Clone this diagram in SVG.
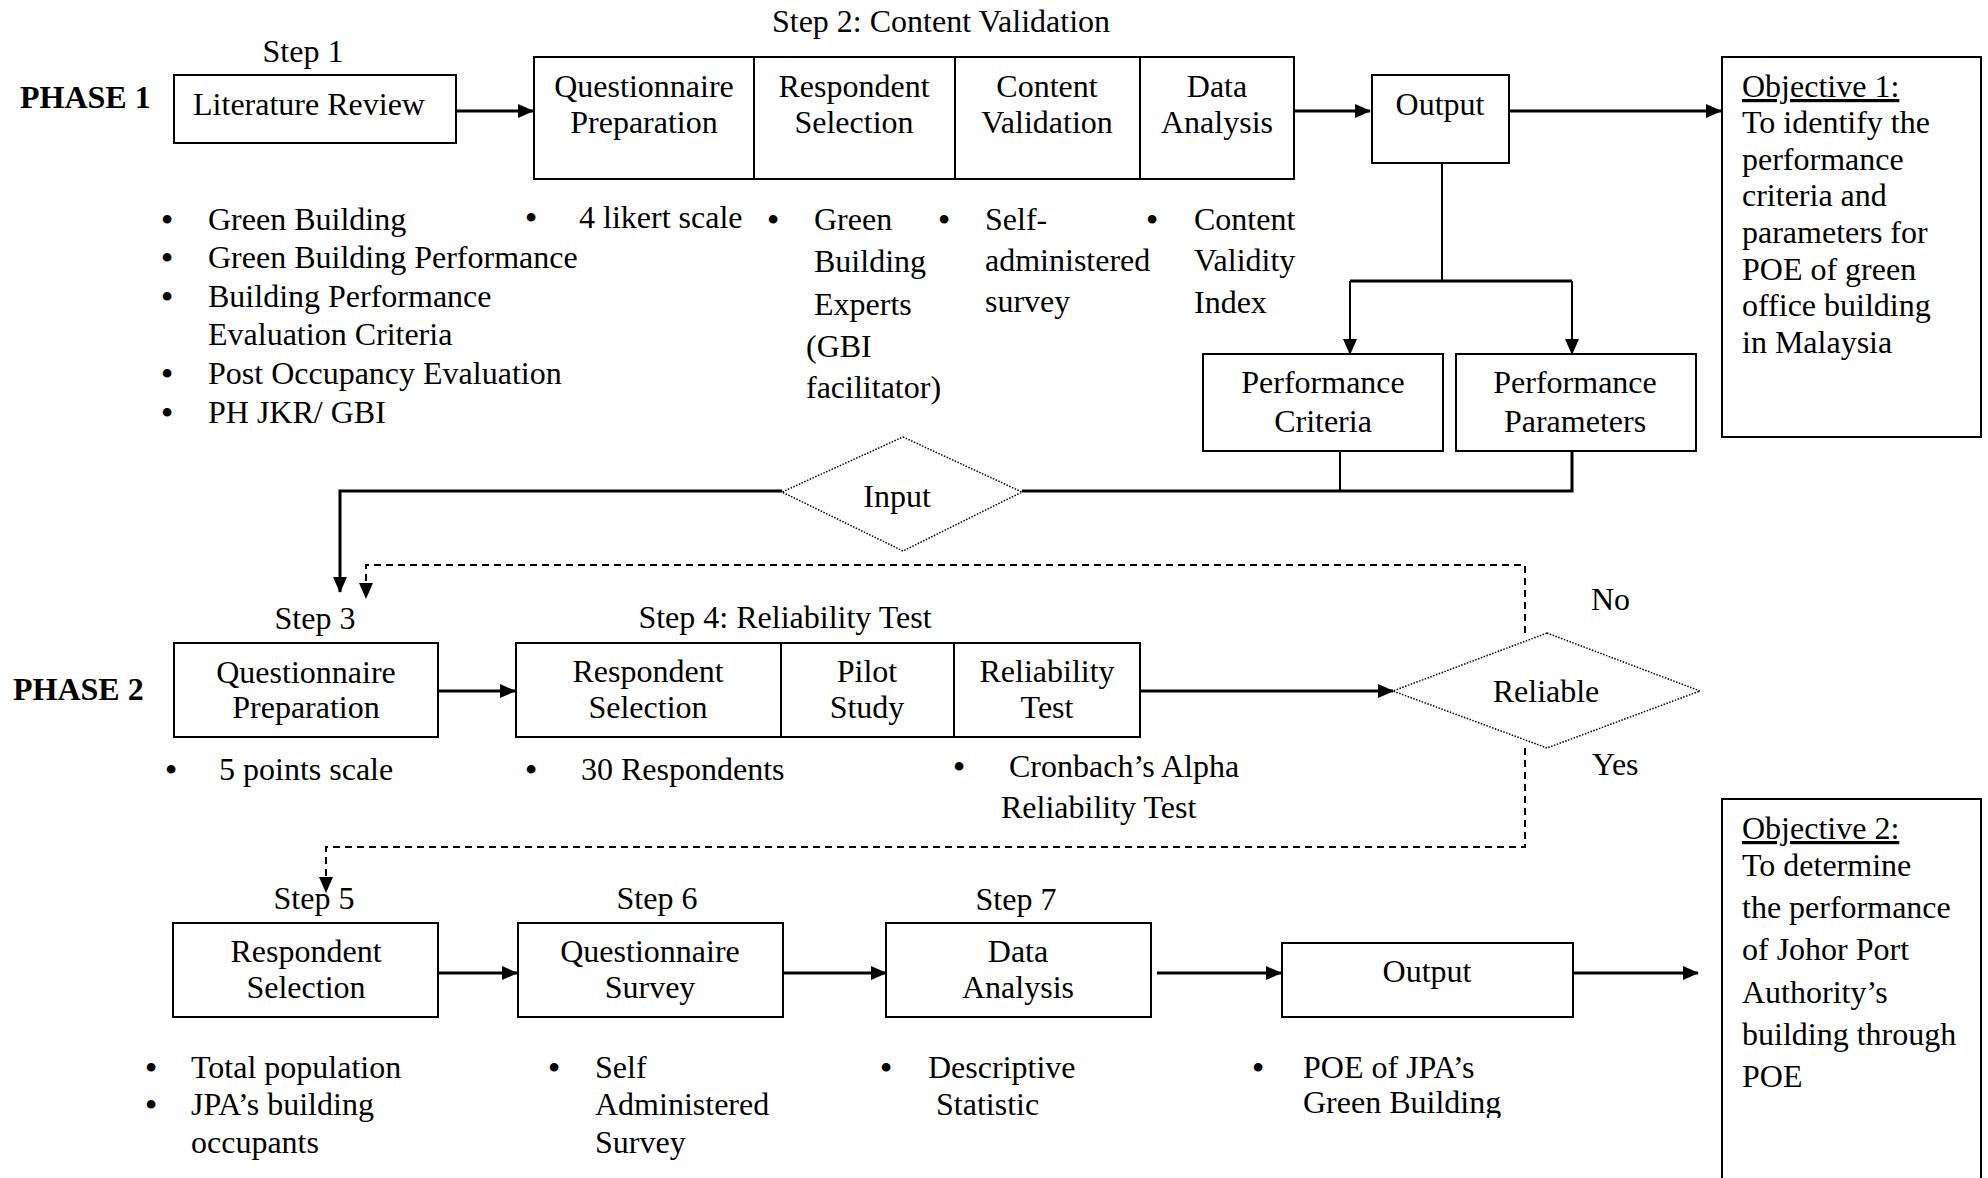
<svg xmlns="http://www.w3.org/2000/svg" width="1988" height="1178" viewBox="0 0 1988 1178">
<defs>
<style>
text{font-family:"Liberation Serif","Times New Roman",serif;font-size:32px;fill:#000}
.c{text-anchor:middle}
.b{font-weight:bold}
.u{text-decoration:underline}
.d{text-anchor:middle;font-weight:bold}
.box{fill:#fff;stroke:#000;stroke-width:2}
.ln{fill:none;stroke:#000;stroke-width:3}
.thin{fill:none;stroke:#000;stroke-width:2}
.dash{fill:none;stroke:#000;stroke-width:2;stroke-dasharray:7 5}
.dia{fill:#fff;stroke:#000;stroke-width:1.5;stroke-dasharray:1.5 1.5}
</style>
<marker id="ah" markerUnits="userSpaceOnUse" markerWidth="16" markerHeight="16" viewBox="0 0 16 16" refX="15" refY="8" orient="auto">
<path d="M0,1 L16,8 L0,15 Z" fill="#000"/>
</marker>
<clipPath id="cut"><rect x="1250" y="1040" width="400" height="78"/></clipPath>
</defs>
<rect width="1988" height="1178" fill="#fff"/>

<text class="b" x="20" y="108">PHASE 1</text>
<text class="b" x="13" y="700">PHASE 2</text>

<text class="c" x="303" y="62">Step 1</text>
<text class="c" x="941" y="32">Step 2: Content Validation</text>
<text class="c" x="315" y="629">Step 3</text>
<text class="c" x="785" y="628">Step 4: Reliability Test</text>
<text class="c" x="314" y="909">Step 5</text>
<text class="c" x="657" y="909">Step 6</text>
<text class="c" x="1016" y="910">Step 7</text>

<g id="connectors">
<line class="ln" x1="456" y1="111" x2="533" y2="111" marker-end="url(#ah)"/>
<line class="ln" x1="1294" y1="111" x2="1370" y2="111" marker-end="url(#ah)"/>
<line class="ln" x1="1509" y1="111" x2="1721" y2="111" marker-end="url(#ah)"/>
<line class="thin" x1="1442" y1="163" x2="1442" y2="281"/>
<line class="ln" x1="1350" y1="281" x2="1572" y2="281"/>
<line class="thin" x1="1350" y1="281" x2="1350" y2="354" marker-end="url(#ah)"/>
<line class="thin" x1="1572" y1="281" x2="1572" y2="354" marker-end="url(#ah)"/>
<polyline class="thin" points="1340,451 1340,491"/>
<polyline class="ln" points="1572,451 1572,491 1022,491"/>
<polyline class="ln" points="782,491 340,491 340,592" marker-end="url(#ah)"/>
<polyline class="dash" points="1525,633 1525,565 366,565 366,598" marker-end="url(#ah)"/>
<line class="ln" x1="438" y1="691" x2="515" y2="691" marker-end="url(#ah)"/>
<line class="ln" x1="1140" y1="691" x2="1393" y2="691" marker-end="url(#ah)"/>
<polyline class="dash" points="1525,748 1525,847 326,847 326,892" marker-end="url(#ah)"/>
<line class="ln" x1="438" y1="973" x2="517" y2="973" marker-end="url(#ah)"/>
<line class="ln" x1="783" y1="973" x2="886" y2="973" marker-end="url(#ah)"/>
<line class="ln" x1="1157" y1="973" x2="1281" y2="973" marker-end="url(#ah)"/>
<line class="ln" x1="1573" y1="973" x2="1698" y2="973" marker-end="url(#ah)"/>
</g>

<g id="literature-review">
<rect class="box" x="174" y="75" width="282" height="68" stroke-width="2.5"/>
<text class="c" x="309" y="115">Literature Review</text>
</g>

<g id="step2-box">
<rect class="box" x="534" y="57" width="760" height="122"/>
<line class="thin" x1="754" y1="57" x2="754" y2="179"/>
<line class="thin" x1="955" y1="57" x2="955" y2="179"/>
<line class="thin" x1="1140" y1="57" x2="1140" y2="179"/>
<text class="c" x="644" y="97">Questionnaire</text>
<text class="c" x="644" y="133">Preparation</text>
<text class="c" x="854" y="97">Respondent</text>
<text class="c" x="854" y="133">Selection</text>
<text class="c" x="1047" y="97">Content</text>
<text class="c" x="1047" y="133">Validation</text>
<text class="c" x="1217" y="97">Data</text>
<text class="c" x="1217" y="133">Analysis</text>
</g>

<g id="output-1">
<rect class="box" x="1372" y="75" width="137" height="88" stroke-width="2.5"/>
<text class="c" x="1440" y="115">Output</text>
</g>

<g id="objective-1">
<rect class="box" x="1722" y="57" width="259" height="380"/>
<text x="1742" y="97" class="u">Objective 1:</text>
<text x="1742" y="133">To identify the</text>
<text x="1742" y="170">performance</text>
<text x="1742" y="206">criteria and</text>
<text x="1742" y="243">parameters for</text>
<text x="1742" y="280">POE of green</text>
<text x="1742" y="316">office building</text>
<text x="1742" y="353">in Malaysia</text>
</g>

<g id="performance-criteria">
<rect class="box" x="1203" y="354" width="240" height="97"/>
<text class="c" x="1323" y="393">Performance</text>
<text class="c" x="1323" y="432">Criteria</text>
</g>

<g id="performance-parameters">
<rect class="box" x="1456" y="354" width="240" height="97"/>
<text class="c" x="1575" y="393">Performance</text>
<text class="c" x="1575" y="432">Parameters</text>
</g>

<g id="input">
<polygon class="dia" points="903,437 1022,492 903,551 782,492"/>
<text class="c" x="897" y="507">Input</text>
</g>

<g id="bullets-phase1">
<text class="d" x="167" y="230">•</text><text x="208" y="230">Green Building</text>
<text class="d" x="167" y="268">•</text><text x="208" y="268">Green Building Performance</text>
<text class="d" x="167" y="307">•</text><text x="208" y="307">Building Performance</text>
<text x="208" y="345">Evaluation Criteria</text>
<text class="d" x="167" y="384">•</text><text x="208" y="384">Post Occupancy Evaluation</text>
<text class="d" x="167" y="423">•</text><text x="208" y="423">PH JKR/ GBI</text>
<text class="d" x="531" y="228">•</text><text x="579" y="228">4 likert scale</text>
<text class="d" x="773" y="230">•</text><text x="814" y="230">Green</text>
<text x="814" y="272">Building</text>
<text x="814" y="315">Experts</text>
<text x="806" y="357">(GBI</text>
<text x="806" y="398">facilitator)</text>
<text class="d" x="944" y="230">•</text><text x="985" y="230">Self-</text>
<text x="985" y="271">administered</text>
<text x="985" y="312">survey</text>
<text class="d" x="1152" y="230">•</text><text x="1194" y="230">Content</text>
<text x="1194" y="271">Validity</text>
<text x="1194" y="313">Index</text>
</g>

<g id="step3-box">
<rect class="box" x="174" y="643" width="264" height="94"/>
<text class="c" x="306" y="683">Questionnaire</text>
<text class="c" x="306" y="718">Preparation</text>
</g>

<g id="step4-box">
<rect class="box" x="516" y="643" width="624" height="94"/>
<line class="thin" x1="781" y1="643" x2="781" y2="737"/>
<line class="thin" x1="954" y1="643" x2="954" y2="737"/>
<text class="c" x="648" y="682">Respondent</text>
<text class="c" x="648" y="718">Selection</text>
<text class="c" x="867" y="682">Pilot</text>
<text class="c" x="867" y="718">Study</text>
<text class="c" x="1047" y="682">Reliability</text>
<text class="c" x="1047" y="718">Test</text>
</g>

<g id="reliable">
<polygon class="dia" points="1547,633 1700,691 1547,748 1393,691"/>
<text class="c" x="1546" y="702">Reliable</text>
</g>
<text x="1591" y="610">No</text>
<text x="1592" y="775">Yes</text>

<g id="bullets-phase2">
<text class="d" x="171" y="780">•</text><text x="219" y="780">5 points scale</text>
<text class="d" x="531" y="780">•</text><text x="581" y="780">30 Respondents</text>
<text class="d" x="959" y="777">•</text><text x="1009" y="777">Cronbach’s Alpha</text>
<text x="1001" y="818">Reliability Test</text>
</g>

<g id="step5-box">
<rect class="box" x="173" y="923" width="265" height="94"/>
<text class="c" x="306" y="962">Respondent</text>
<text class="c" x="306" y="998">Selection</text>
</g>

<g id="step6-box">
<rect class="box" x="518" y="923" width="265" height="94"/>
<text class="c" x="650" y="962">Questionnaire</text>
<text class="c" x="650" y="998">Survey</text>
</g>

<g id="step7-box">
<rect class="box" x="886" y="923" width="265" height="94"/>
<text class="c" x="1018" y="962">Data</text>
<text class="c" x="1018" y="998">Analysis</text>
</g>

<g id="output-2">
<rect class="box" x="1282" y="943" width="291" height="74" stroke-width="2.5"/>
<text class="c" x="1427" y="982">Output</text>
</g>

<g id="objective-2">
<rect class="box" x="1722" y="799" width="259" height="400"/>
<text x="1742" y="839" class="u">Objective 2:</text>
<text x="1742" y="876">To determine</text>
<text x="1742" y="918">the performance</text>
<text x="1742" y="960">of Johor Port</text>
<text x="1742" y="1003">Authority’s</text>
<text x="1742" y="1045">building through</text>
<text x="1742" y="1087">POE</text>
</g>

<g id="bullets-phase3">
<text class="d" x="151" y="1078">•</text><text x="191" y="1078">Total population</text>
<text class="d" x="151" y="1115">•</text><text x="191" y="1115">JPA’s building</text>
<text x="191" y="1153">occupants</text>
<text class="d" x="554" y="1078">•</text><text x="595" y="1078">Self</text>
<text x="595" y="1115">Administered</text>
<text x="595" y="1153">Survey</text>
<text class="d" x="886" y="1078">•</text><text x="928" y="1078">Descriptive</text>
<text x="936" y="1115">Statistic</text>
<text class="d" x="1258" y="1078">•</text><text x="1303" y="1078">POE of JPA’s</text>
<text x="1303" y="1113" clip-path="url(#cut)">Green Building</text>
</g>
</svg>
